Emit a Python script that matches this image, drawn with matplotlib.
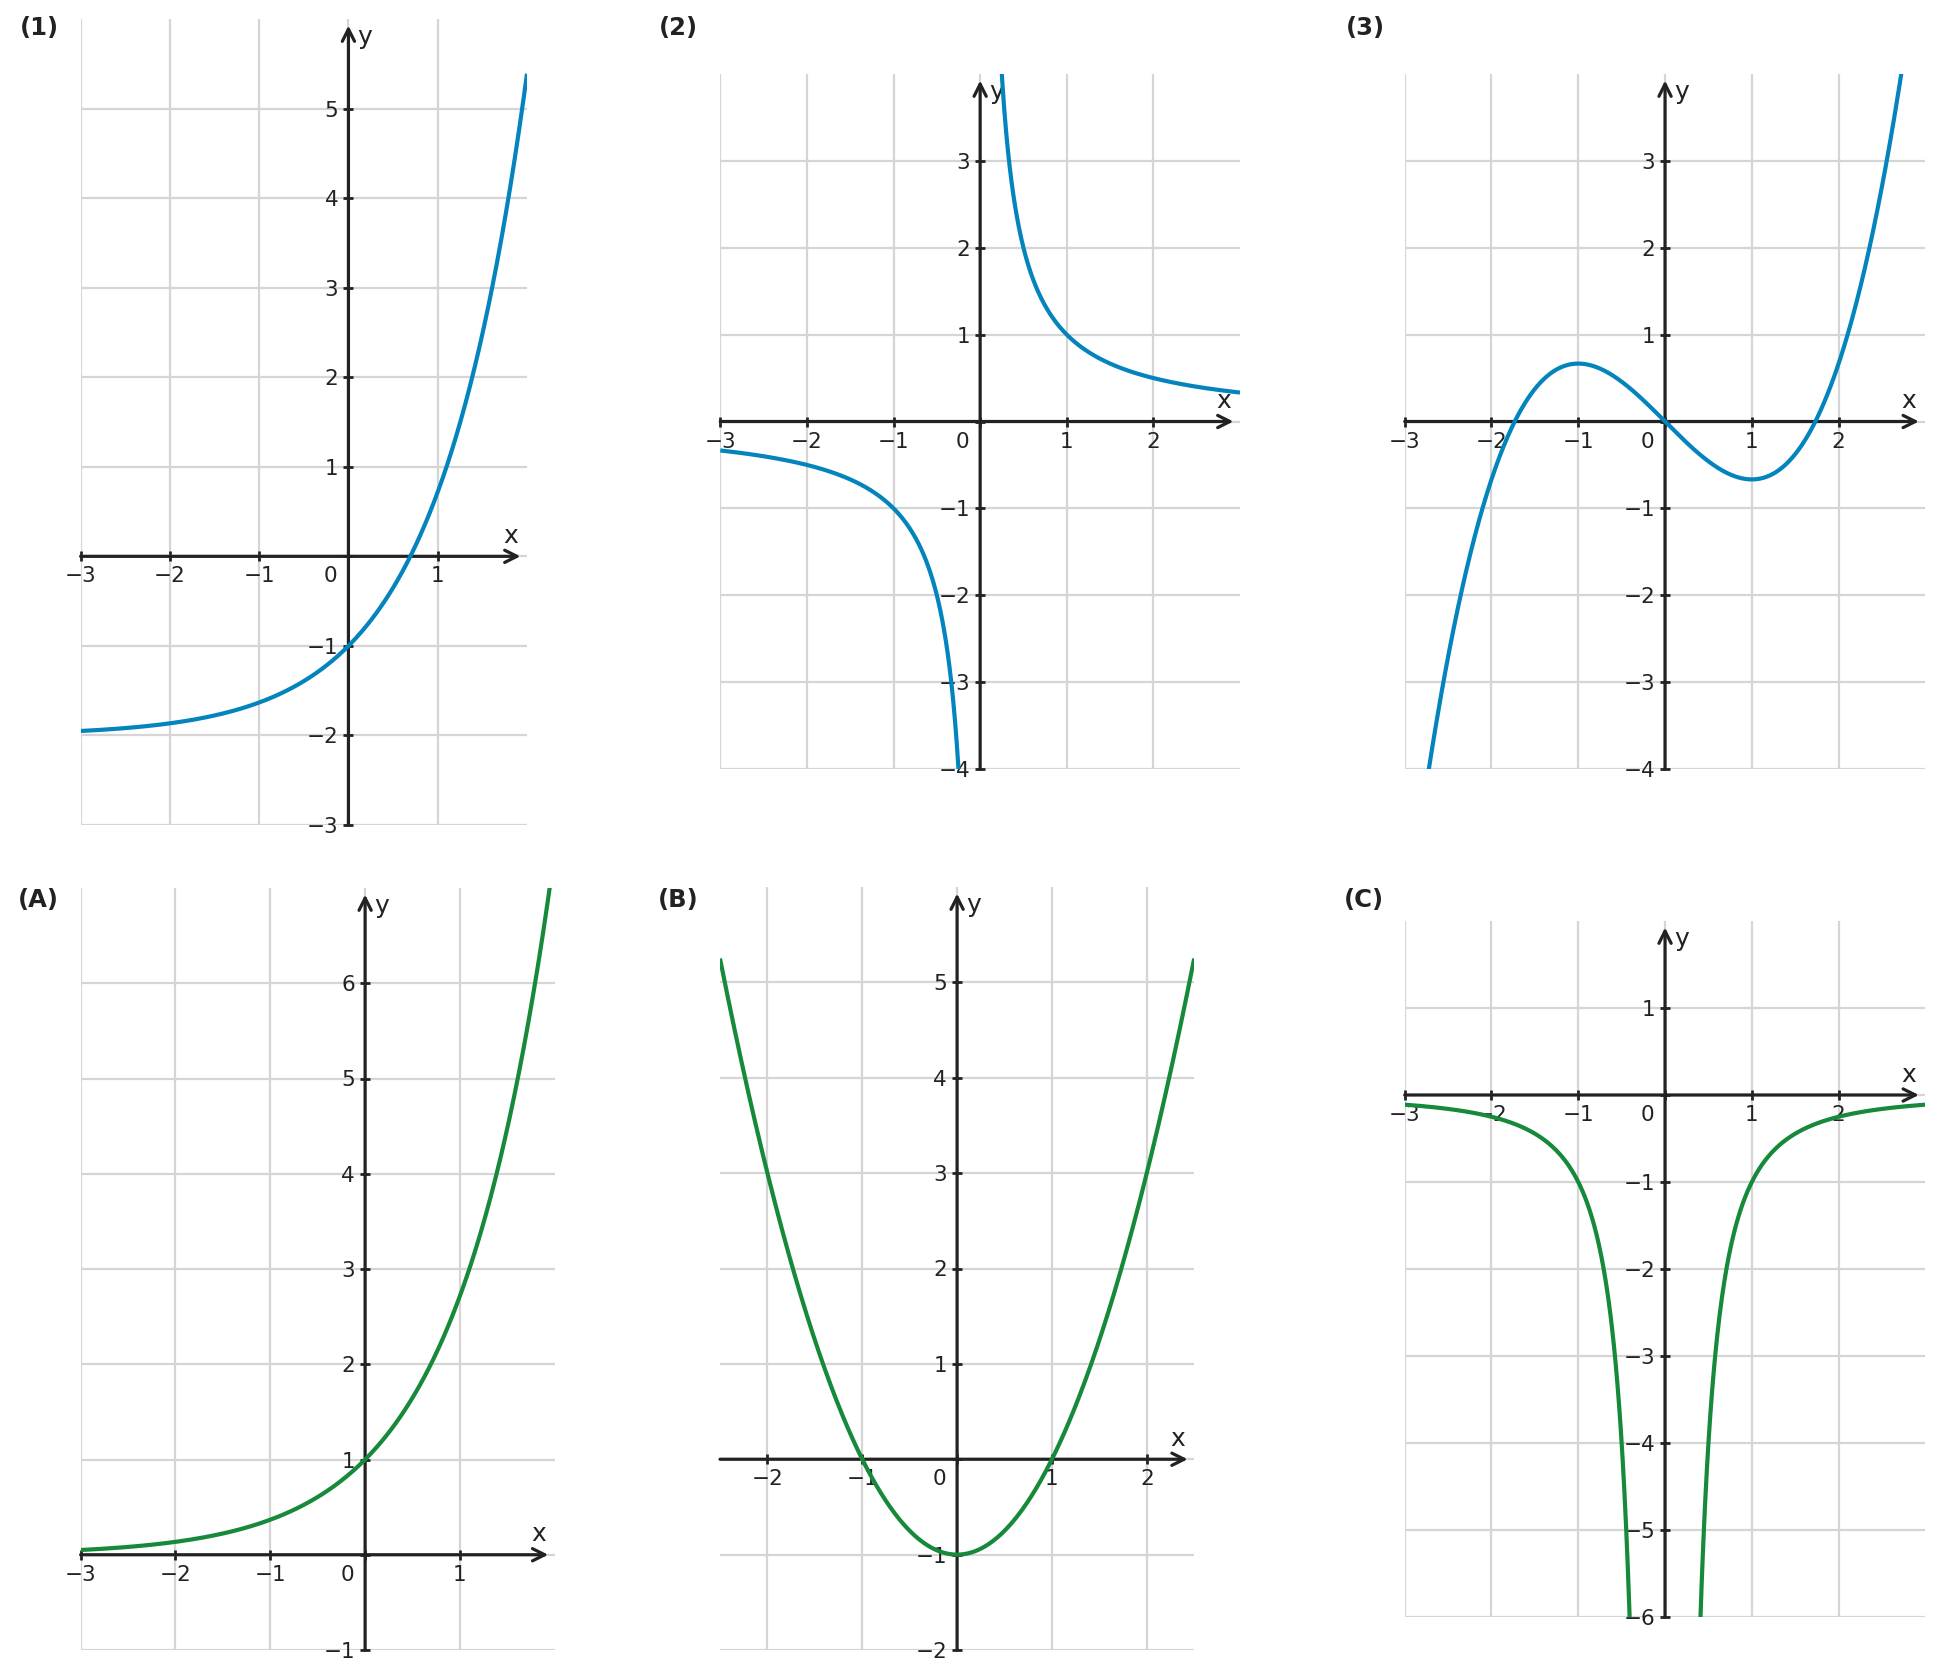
import numpy as np
import matplotlib
matplotlib.use("Agg")
import matplotlib.pyplot as plt

# ---------------- data ----------------
panel_labels = ["(1)", "(2)", "(3)", "(A)", "(B)", "(C)"]
x_limits = [(-3, 2), (-3, 3), (-3, 3), (-3, 2), (-2.5, 2.5), (-3, 3)]
y_limits = [(-3, 6), (-4, 4), (-4, 4), (-1, 7), (-2, 6), (-6, 2)]
x_ticks = [[-3, -2, -1, 0, 1], [-3, -2, -1, 0, 1, 2], [-3, -2, -1, 0, 1, 2],
           [-3, -2, -1, 0, 1], [-2, -1, 0, 1, 2], [-3, -2, -1, 0, 1, 2]]
y_ticks = [[-3, -2, -1, 0, 1, 2, 3, 4, 5], [-4, -3, -2, -1, 0, 1, 2, 3],
           [-4, -3, -2, -1, 0, 1, 2, 3], [-1, 0, 1, 2, 3, 4, 5, 6],
           [-2, -1, 0, 1, 2, 3, 4, 5], [-6, -5, -4, -3, -2, -1, 0, 1]]

# function graphs: (1) e^x-2, (2) 1/x, (3) x^3/3-x, (A) e^x, (B) x^2-1, (C) -1/x^2
exp_shift = [-2.0, 0.0]               # vertical shifts of the exponential graphs (1), (A)
cubic_coef = [1 / 3, 0.0, -1.0, 0.0]  # (3)
quad_coef = [1.0, 0.0, -1.0]          # (B)
recip_coef = 1.0                      # (2)  y = k / x
inv_sq_coef = -1.0                    # (C)  y = k / x^2

def curve_segments(i):
    if i == 0:
        x = np.linspace(-3, 2, 400)
        return [(x, np.exp(x) + exp_shift[0])]
    if i == 1:
        a = np.linspace(-3, -0.2, 400)
        b = np.linspace(0.2, 3, 400)
        return [(a, recip_coef / a), (b, recip_coef / b)]
    if i == 2:
        x = np.linspace(-3, 3, 500)
        return [(x, np.polyval(cubic_coef, x))]
    if i == 3:
        x = np.linspace(-3, 2, 400)
        return [(x, np.exp(x) + exp_shift[1])]
    if i == 4:
        x = np.linspace(-2.5, 2.5, 400)
        return [(x, np.polyval(quad_coef, x))]
    a = np.linspace(-3, -0.35, 400)
    b = np.linspace(0.35, 3, 400)
    return [(a, inv_sq_coef / a ** 2), (b, inv_sq_coef / b ** 2)]

# ---------------- layout (pixels) ----------------
W, H = 1944, 1679
boxes = [(80.6, 19.0, 527.0, 825.0), (720.3, 74.0, 1240.0, 769.0), (1404.7, 74.0, 1925.4, 769.0),
         (80.6, 888.0, 554.8, 1650.0), (720.0, 887.0, 1194.2, 1650.0), (1404.7, 921.0, 1925.4, 1617.0)]
label_xy = [(19.5, 35.0), (659.0, 35.0), (1345.5, 35.0), (18.0, 906.5), (657.5, 906.5), (1344.0, 906.5)]
colors = ["#0484bd"] * 3 + ["#16893a"] * 3
ink = "#222222"
grid_col = "#d5d5d5"

fig = plt.figure(figsize=(W / 100, H / 100), dpi=100)

for i in range(6):
    l, t, r, b = boxes[i]
    ax = fig.add_axes([l / W, 1 - b / H, (r - l) / W, (b - t) / H])
    x0, x1 = x_limits[i]
    y0, y1 = y_limits[i]
    ax.set_xlim(x0, x1)
    ax.set_ylim(y0, y1)
    ax.set_xticks(x_ticks[i])
    ax.set_yticks(y_ticks[i])
    ax.set_xticklabels(["" if v == 0 else f"{v}".replace("-", "\u2212") for v in x_ticks[i]])
    ax.set_yticklabels(["" if v == 0 else f"{v}".replace("-", "\u2212") for v in y_ticks[i]])
    ax.grid(True, color=grid_col, lw=1.6, zorder=0)
    ax.set_axisbelow(True)
    for s in ["top", "right"]:
        ax.spines[s].set_visible(False)
    for s in ["left", "bottom"]:
        ax.spines[s].set_position(("data", 0))
        ax.spines[s].set_edgecolor("none")
    ax.tick_params(direction="inout", length=7.5, width=2, color=ink,
                   labelsize=15.5, labelcolor=ink, pad=3.5)

    for xs, ys in curve_segments(i):
        ax.plot(xs, ys, color=colors[i], lw=3, zorder=4, solid_capstyle="butt")

    arrow = dict(arrowstyle="->", lw=2.3, color=ink, shrinkA=0, shrinkB=4.7,
                 mutation_scale=22)
    ax.annotate("", xy=(x1, 0), xytext=(x0, 0), arrowprops=arrow,
                annotation_clip=False, zorder=3)
    ax.annotate("", xy=(0, y1), xytext=(0, y0), arrowprops=arrow,
                annotation_clip=False, zorder=3)

    ax.annotate("x", xy=(x1, 0), xytext=(-6.5, 9.6), textcoords="offset points",
                ha="right", va="baseline", fontsize=18, color=ink, annotation_clip=False)
    ax.annotate("y", xy=(0, y1), xytext=(6.3, -4.6), textcoords="offset points",
                ha="left", va="top", fontsize=18, color=ink, annotation_clip=False)
    ax.annotate("0", xy=(0, 0), xytext=(-7.8, -7.3), textcoords="offset points",
                ha="right", va="top", fontsize=15.5, color=ink, annotation_clip=False)

    lx, ly = label_xy[i]
    fig.text(lx / W, 1 - ly / H, panel_labels[i], ha="left", va="baseline",
             fontsize=17.5, fontweight="bold", color=ink)

fig.savefig("out.png", dpi=100, facecolor="white")
